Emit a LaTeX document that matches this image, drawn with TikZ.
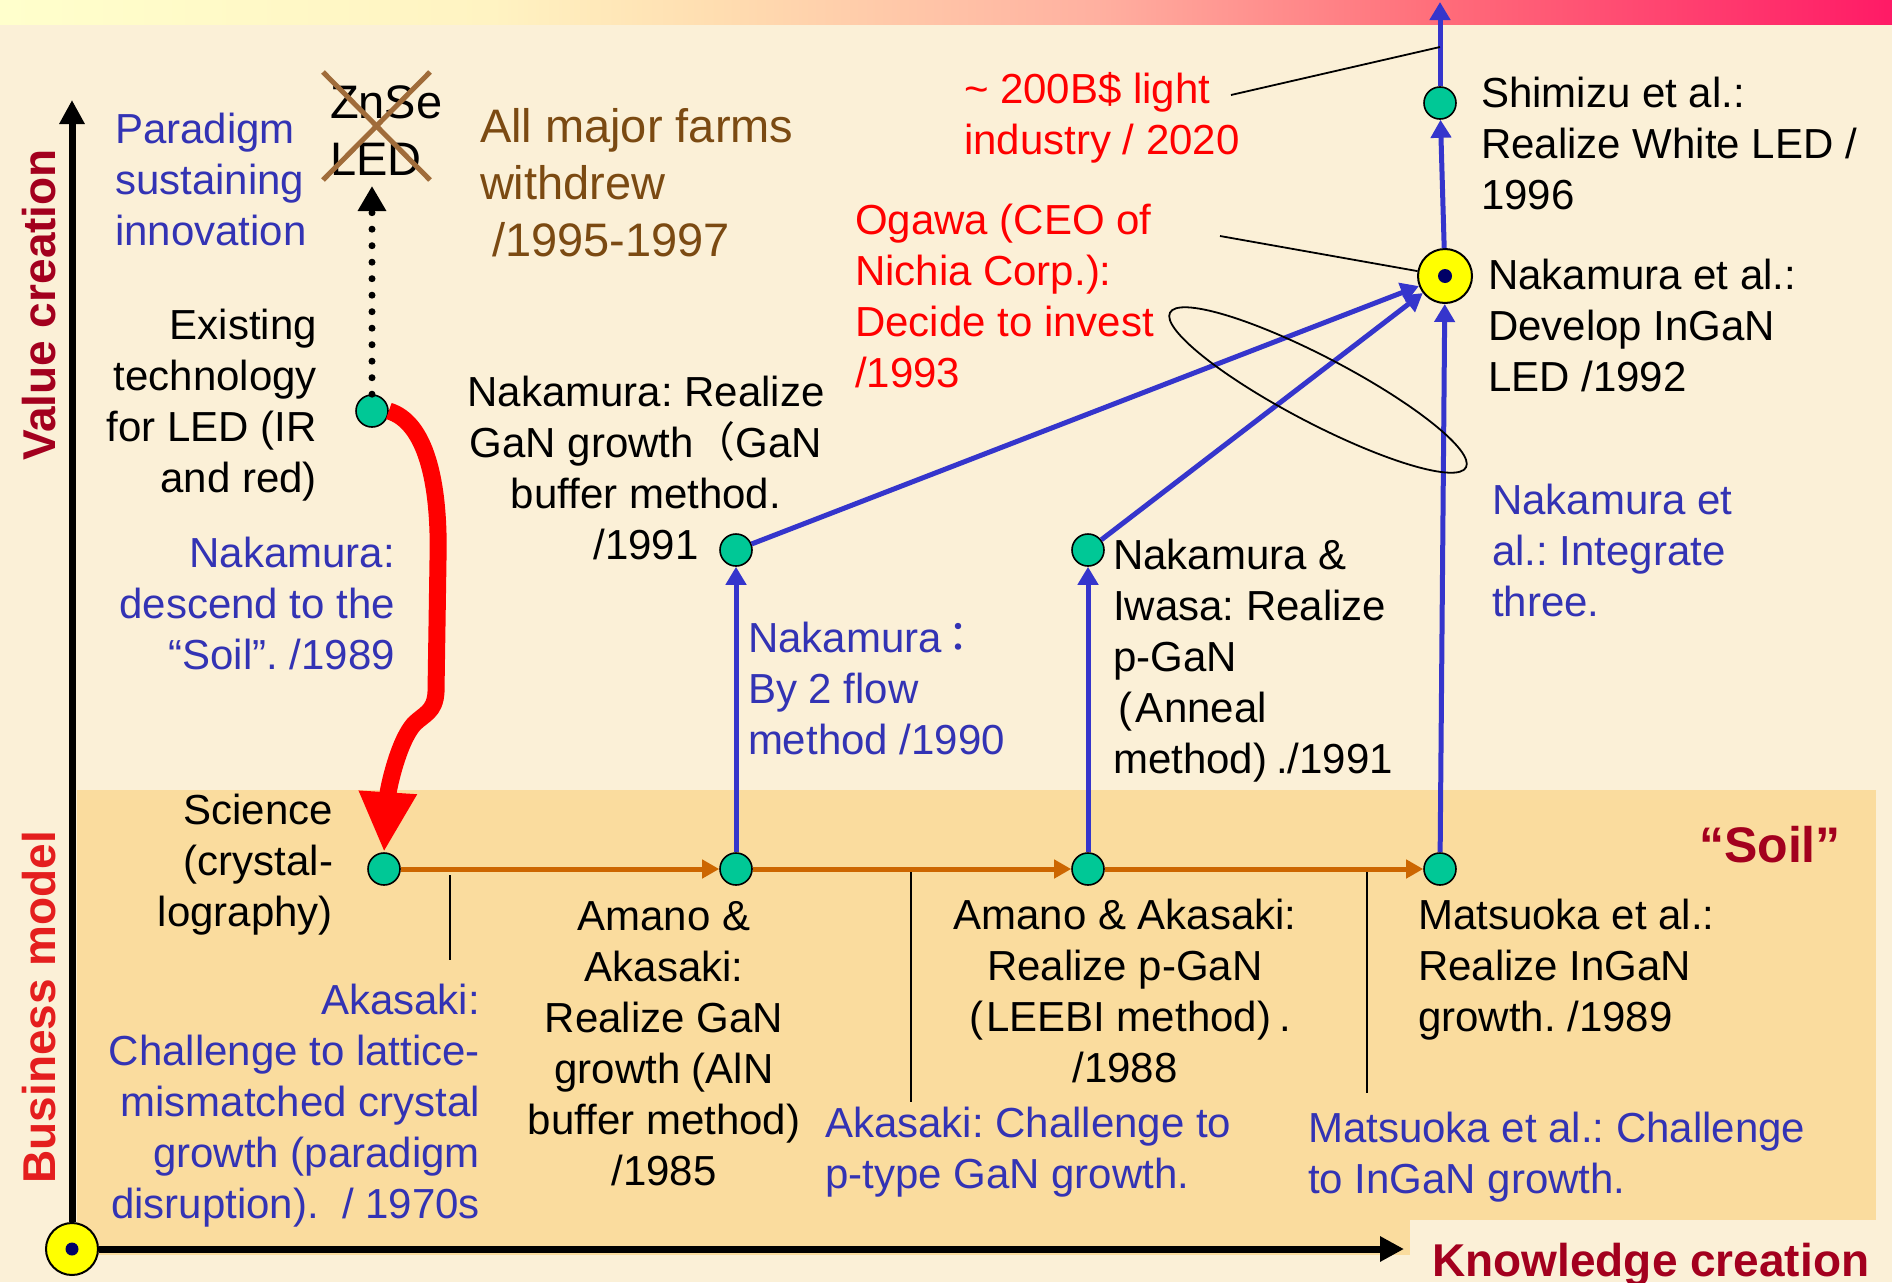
\documentclass[tikz,border=0pt]{standalone}
\usepackage{fontspec}
\setmainfont{Liberation Sans}
\newfontfamily\cjk{Noto Sans CJK JP}
\usetikzlibrary{arrows.meta}
\frenchspacing

\definecolor{paper}{HTML}{FBF0D7}
\definecolor{soil}{HTML}{FADC9E}
\definecolor{dotgreen}{HTML}{00C896}
\definecolor{txtblue}{HTML}{3333B4}
\definecolor{arrblue}{HTML}{3535CC}
\definecolor{darkred}{HTML}{A3001E}
\definecolor{brightred}{HTML}{E41E1E}
\definecolor{farmbrown}{HTML}{7B4A12}
\definecolor{crossbrown}{HTML}{A06C3A}
\definecolor{rust}{HTML}{CC6600}
\definecolor{keyyellow}{HTML}{FFFF00}
\definecolor{navy}{HTML}{000066}
\definecolor{bandA}{HTML}{FFFFCC}
\definecolor{bandB}{HTML}{FFF3C2}
\definecolor{bandC}{HTML}{FFDDB0}
\definecolor{bandD}{HTML}{FFB0A0}
\definecolor{bandE}{HTML}{FF6D7A}
\definecolor{bandF}{HTML}{FF1A66}

\pgfdeclarehorizontalshading{band}{100bp}{color(0bp)=(bandA); color(25bp)=(bandA);
  color(38bp)=(bandB); color(44bp)=(bandC); color(54bp)=(bandD); color(63bp)=(bandE);
  color(75bp)=(bandF); color(100bp)=(bandF)}

\tikzset{
  txt/.style={font=\fontsize{42}{51}\selectfont, inner sep=0pt, outer sep=0pt},
  bigtxt/.style={font=\fontsize{47}{57}\selectfont, inner sep=0pt, outer sep=0pt},
  axislabel/.style={font=\bfseries\fontsize{46}{55}\selectfont, inner sep=0pt},
  dotnode/.style={circle, fill=dotgreen, draw=black, line width=1.6pt,
    minimum size=32pt, inner sep=0pt},
  keynode/.style={circle, fill=keyyellow, draw=black, line width=2pt, inner sep=0pt},
  bluearrow/.style={draw=arrblue, line width=5pt, -{Triangle[width=20pt,length=18pt]}},
  rustarrow/.style={draw=rust, line width=5pt, -{Triangle[width=18pt,length=17pt]}},
  axisarrow/.style={draw=black, line width=7pt, -{Triangle[width=24pt,length=24pt]}},
  redarrow/.style={draw=red, line width=17pt, -{Triangle[width=54pt,length=60pt]}},
  dotarrow/.style={draw=black, line width=7pt, line cap=round,
    dash pattern=on 0pt off 16.5pt, -{Triangle[width=27pt,length=25pt]}},
  thinline/.style={draw=black, line width=1.8pt},
  crossline/.style={draw=crossbrown, line width=5pt},
}

\begin{document}
\begin{tikzpicture}[x=1pt, y=-1pt]
\useasboundingbox (0,0) rectangle (1892,1282);

% page, title band and the "soil" layer
\fill[paper] (0,0) rectangle (1892,1282);
\shade[shading=band] (0,0) rectangle (1892,24);
\fill[soil] (77,790) rectangle (1876,1255);
\fill[paper] (1410,1220) rectangle (1892,1282);

% milestones
\node[keynode, minimum size=52pt] (origin) at (72,1249) {};
\node[dotnode] (exist) at (372,411) {};
\node[dotnode] (science) at (384,869) {};
\node[dotnode] (amano) at (736,869) {};
\node[dotnode] (leebidot) at (1088,869) {};
\node[dotnode] (matsuoka) at (1440,869) {};
\node[dotnode] (ganbuf) at (736,550) {};
\node[dotnode] (iwasa) at (1088,550) {};
\node[keynode, minimum size=54pt] (ingan) at (1445,276) {};
\node[dotnode] (shimizu) at (1440,103) {};
\fill[navy] (origin) circle (6.5pt);
\fill[navy] (ingan) circle (7pt);

% free ends
\coordinate (yend) at (72,100);
\coordinate (xend) at (1404,1249);
\coordinate (topend) at (1440,2);
\coordinate (znsetip) at (372,186);
\coordinate (marketfoot) at (1231,95);
\coordinate (markethead) at (1440,47);
\coordinate (ogawafoot) at (1220,236);
\coordinate (t1a) at (450,875);   \coordinate (t1b) at (450,960);
\coordinate (t2a) at (911,872);   \coordinate (t2b) at (911,1102);
\coordinate (t3a) at (1367,872);  \coordinate (t3b) at (1367,1093);

% axes
\draw[axisarrow] (origin) -- (yend);
\draw[axisarrow] (origin) -- (xend);

% knowledge chain in the soil
\draw[rustarrow] (science) -- (amano);
\draw[rustarrow] (amano) -- (leebidot);
\draw[rustarrow] (leebidot) -- (matsuoka);
\draw[thinline] (t1a) -- (t1b);
\draw[thinline] (t2a) -- (t2b);
\draw[thinline] (t3a) -- (t3b);

% rising to value
\draw[bluearrow] (amano) -- (ganbuf);
\draw[bluearrow] (leebidot) -- (iwasa);
\draw[bluearrow] (matsuoka) -- (ingan);
\draw[bluearrow] (ganbuf) -- (ingan);
\draw[bluearrow] (iwasa) -- (ingan);
\draw[bluearrow] (ingan) -- (shimizu);
\draw[bluearrow] (shimizu) -- (topend);
\draw[thinline] (marketfoot) -- (markethead);
\draw[thinline] (ogawafoot) -- (ingan);
\draw[thinline, rotate around={-27.6:(1318,390)}] (1318,390) ellipse [x radius=167pt, y radius=33pt];

% descent from existing technology to science
\draw[redarrow] (exist.east) .. controls (425,422) and (440,480) .. (438,560)
  -- (436,692) .. controls (435,712) and (424,714) .. (414,724)
  .. controls (398,742) and (388,790) .. (science.north);
\draw[dotarrow] (exist) -- (znsetip);

% axis titles
\node[axislabel, text=darkred, rotate=90] (valuetxt) at (39,305) {Value creation};
\node[axislabel, text=brightred, rotate=90] (biztxt) at (39,1007) {Business model};
\node[axislabel, text=darkred, anchor=base west] (knowtxt) at (1432,1276) {Knowledge creation};
\node[font=\bfseries\fontsize{50}{60}\selectfont, text=darkred, anchor=base east, inner sep=0pt]
  (soiltxt) at (1841,862) {“Soil”};

% upper texts
\node[txt, text=txtblue, anchor=north west, align=left] (paradigm) at (115,113)
  {Paradigm\\sustaining\\innovation};
\node[bigtxt, anchor=north west, align=left] (znse) at (330,86) {ZnSe\\LED};
\draw[crossline] (323,72) -- (430,180);
\draw[crossline] (430,72) -- (323,180);
\node[bigtxt, text=farmbrown, anchor=north west, align=left] (farms) at (480,108)
  {All major farms\\withdrew\\\hspace*{12pt}/1995-1997};
\node[txt, anchor=north east, align=right] (existtxt) at (317,309)
  {Existing\\technology\\for LED (IR\\and red)};
\node[txt, text=txtblue, anchor=north east, align=right] (descend) at (395,537)
  {Nakamura:\\descend to the\\“Soil”. /1989};
\node[txt, text=red, anchor=north west, align=left] (market) at (964,72)
  {\textasciitilde{} 200B\$ light\\industry / 2020};
\node[txt, text=red, anchor=north west, align=left] (ogawa) at (855,204)
  {Ogawa (CEO of\\Nichia Corp.):\\Decide to invest\\/1993};
\node[txt, anchor=north, align=center] (gantxt) at (646,376)
  {Nakamura: Realize\\GaN growth{\cjk （}GaN\\buffer method.\\/1991};
\node[txt, text=txtblue, anchor=north west, align=left] (flowtxt) at (748,622)
  {Nakamura\hspace{-4pt}{\cjk ：}\\By 2 flow\\method /1990};
\node[txt, anchor=north west, align=left] (iwasatxt) at (1113,539)
  {Nakamura \&\\Iwasa: Realize\\p-GaN\\\hspace*{5pt}(\hspace{4pt}Anneal\\method)\hspace{9pt}./1991};
\node[txt, anchor=north west, align=left] (shimizutxt) at (1481,77)
  {Shimizu et al.:\\Realize White LED /\\1996};
\node[txt, anchor=north west, align=left] (ingantxt) at (1488,259)
  {Nakamura et al.:\\Develop InGaN\\LED /1992};
\node[txt, text=txtblue, anchor=north west, align=left] (integrate) at (1492,484)
  {Nakamura et\\al.: Integrate\\three.};

% soil texts
\node[txt, anchor=north east, align=right] (sciencetxt) at (333,794)
  {Science\\(crystal-\\lography)};
\node[txt, anchor=north, align=center] (alntxt) at (664,901)
  {Amano \&\\Akasaki:\\Realize GaN\\growth (AlN\\buffer method)\\/1985};
\node[txt, text=txtblue, anchor=north east, align=right] (lattice) at (480,984)
  {Akasaki:\\Challenge to lattice-\\mismatched crystal\\growth (paradigm\\disruption).\ \ / 1970s};
\node[txt, anchor=north, align=center] (leebitxt) at (1125,899)
  {Amano \& Akasaki:\\Realize p-GaN\\\hspace*{10pt}(\hspace{3pt}LEEBI method)\hspace{8pt}.\\/1988};
\node[txt, anchor=north west, align=left] (matsuokatxt) at (1418,899)
  {Matsuoka et al.:\\Realize InGaN\\growth. /1989};
\node[txt, text=txtblue, anchor=north west, align=left] (ptype) at (825,1107)
  {Akasaki: Challenge to\\p-type GaN growth.};
\node[txt, text=txtblue, anchor=north west, align=left] (inganchallenge) at (1308,1112)
  {Matsuoka et al.: Challenge\\to InGaN growth.};
\end{tikzpicture}
\end{document}
